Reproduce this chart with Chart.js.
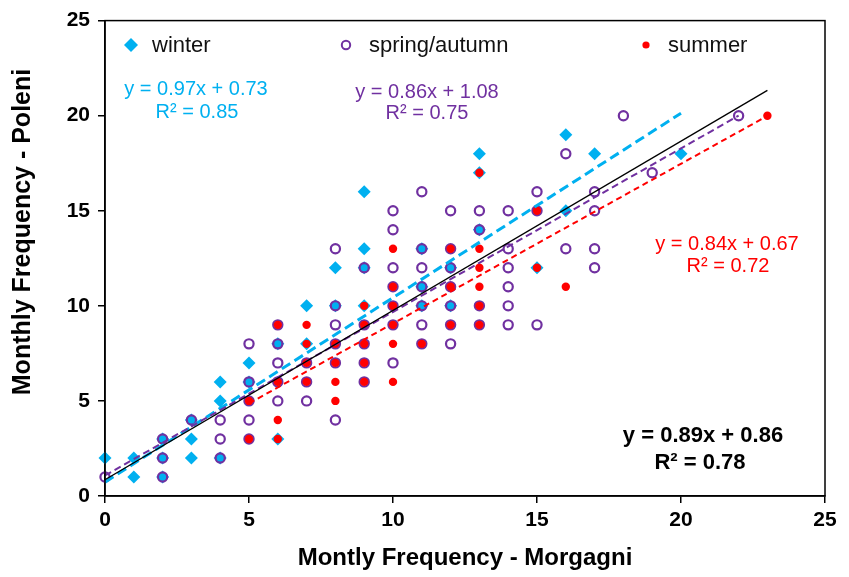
<!DOCTYPE html>
<html>
<head>
<meta charset="utf-8">
<script src="https://cdn.jsdelivr.net/npm/chart.js@4.4.0/dist/chart.umd.min.js"></script>
<style>
  html, body { margin: 0; padding: 0; background: #fff; }
  #wrap { width: 849px; height: 577px; }
</style>
</head>
<body>
<div id="wrap"><canvas id="chart" width="849" height="577"></canvas></div>
<script>
// series (monthly counts, Morgagni vs Poleni)
const winterX = [0, 1, 1, 2, 2, 2, 3, 3, 3, 4, 4, 4, 5, 5, 6, 6, 7, 7, 8, 8, 9, 9, 9, 9, 11, 11, 11, 12, 12, 13, 13, 13, 15, 16, 16, 17, 20]
const winterY = [2, 2, 1, 3, 2, 1, 4, 3, 2, 6, 5, 2, 7, 6, 8, 3, 10, 8, 12, 10, 16, 13, 12, 10, 13, 11, 10, 12, 10, 18, 17, 14, 12, 19, 15, 18, 18]

const springX = [0, 2, 2, 2, 3, 4, 4, 4, 5, 5, 5, 5, 5, 6, 6, 6, 6, 6, 7, 7, 7, 8, 8, 8, 8, 8, 8, 9, 9, 9, 9, 9,
  10, 10, 10, 10, 10, 10, 10, 11, 11, 11, 11, 11, 11, 11, 12, 12, 12, 12, 12, 12, 12, 13, 13, 13, 13,
  14, 14, 14, 14, 14, 14, 15, 15, 15, 16, 16, 17, 17, 17, 17, 18, 19, 22]
const springY = [1, 3, 2, 1, 4, 4, 3, 2, 8, 6, 5, 4, 3, 9, 8, 7, 6, 5, 7, 6, 5, 13, 10, 9, 8, 7, 4, 12, 9, 8, 7, 6,
  15, 14, 12, 11, 10, 9, 7, 16, 13, 12, 11, 10, 9, 8, 15, 13, 12, 11, 10, 9, 8, 15, 14, 10, 9,
  15, 13, 12, 11, 10, 9, 16, 15, 9, 18, 13, 16, 15, 13, 12, 20, 17, 20]

const summerX = [5, 5, 6, 6, 6, 6, 7, 7, 7, 7, 8, 8, 8, 8, 9, 9, 9, 9, 9, 10, 10, 10, 10, 10, 10, 11,
  12, 12, 12, 13, 13, 13, 13, 13, 13, 15, 15, 16, 23]
const summerY = [5, 3, 9, 6, 4, 3, 9, 8, 7, 6, 8, 7, 6, 5, 10, 9, 8, 7, 6, 13, 11, 10, 9, 8, 6, 8,
  13, 11, 9, 17, 13, 12, 11, 10, 9, 15, 12, 11, 20]

// linear fits as printed on the chart
const fitSlope = [0.97, 0.86, 0.84, 0.89]
const fitIntercept = [0.73, 1.08, 0.67, 0.86]
const fitR2 = [0.85, 0.75, 0.72, 0.78]
const fitFrom = [0, 0, 5, 0]
const fitTo = [20, 22, 23, 23]

const xTicks = [0, 5, 10, 15, 20, 25]
const yTicks = [0, 5, 10, 15, 20, 25]

const CYAN = "#00B0F0"
const PURPLE = "#7030A0"
const RED = "#FF0000"
const FONT = "'Liberation Sans', Arial, sans-serif"

const pts = (xs, ys) => xs.map((x, i) => ({ x: x, y: ys[i] }))
const fitLine = i => [fitFrom[i], fitTo[i]].map(x => ({ x: x, y: fitSlope[i] * x + fitIntercept[i] }))
const eqText = i => "y = " + fitSlope[i].toFixed(2) + "x + " + fitIntercept[i].toFixed(2)
const r2Text = i => "R\u00B2 = " + fitR2[i].toFixed(2)

// legend, equations, frame and y title are drawn on top of the chart area
const overlay = {
  id: "overlay",
  afterDraw(chart) {
    const ctx = chart.ctx
    const a = chart.chartArea
    ctx.save()

    // box round the plot
    ctx.strokeStyle = "#000"
    ctx.lineWidth = 1.5
    ctx.strokeRect(a.left, a.top, a.right - a.left, a.bottom - a.top)

    // legend row
    ctx.fillStyle = CYAN
    ctx.beginPath()
    ctx.moveTo(131, 38); ctx.lineTo(138, 45); ctx.lineTo(131, 52); ctx.lineTo(124, 45)
    ctx.closePath(); ctx.fill()
    ctx.strokeStyle = PURPLE
    ctx.lineWidth = 2
    ctx.beginPath(); ctx.arc(346, 45, 4.2, 0, Math.PI * 2); ctx.stroke()
    ctx.fillStyle = RED
    ctx.beginPath(); ctx.arc(646, 45, 3.6, 0, Math.PI * 2); ctx.fill()

    ctx.fillStyle = "#111"
    ctx.font = "22px " + FONT
    ctx.textBaseline = "middle"
    ctx.textAlign = "left"
    ctx.fillText("winter", 152, 46)
    ctx.fillText("spring/autumn", 369, 46)
    ctx.fillText("summer", 668, 46)

    // fit equations
    ctx.textAlign = "center"
    ctx.font = "20px " + FONT
    ctx.fillStyle = CYAN
    ctx.fillText(eqText(0), 196, 89)
    ctx.fillText(r2Text(0), 197, 112)
    ctx.fillStyle = PURPLE
    ctx.fillText(eqText(1), 427, 92)
    ctx.fillText(r2Text(1), 427, 113)
    ctx.fillStyle = RED
    ctx.fillText(eqText(2), 727, 244)
    ctx.fillText(r2Text(2), 728, 266)
    ctx.fillStyle = "#000"
    ctx.font = "bold 22px " + FONT
    ctx.fillText(eqText(3), 703, 436)
    ctx.fillText(r2Text(3), 700, 463)

    // y axis title
    ctx.translate(23, 232)
    ctx.rotate(-Math.PI / 2)
    ctx.font = "bold 25px " + FONT
    ctx.fillText("Monthly Frequency - Poleni", 0, 0)
    ctx.restore()
  }
}

const tickFont = { family: FONT, size: 21, weight: "bold" }

new Chart(document.getElementById("chart"), {
  type: "scatter",
  data: {
    datasets: [
      {
        label: "winter",
        data: pts(winterX, winterY),
        pointStyle: "rectRot",
        pointRadius: 6.5,
        backgroundColor: CYAN,
        borderColor: CYAN,
        borderWidth: 0,
        clip: false,
        order: 6
      },
      {
        label: "spring/autumn",
        data: pts(springX, springY),
        pointStyle: "circle",
        pointRadius: 4.6,
        backgroundColor: "rgba(0,0,0,0)",
        borderColor: PURPLE,
        borderWidth: 2.2,
        clip: false,
        order: 5
      },
      {
        label: "summer",
        data: pts(summerX, summerY),
        pointStyle: "circle",
        pointRadius: 4.2,
        backgroundColor: RED,
        borderColor: RED,
        borderWidth: 0,
        clip: false,
        order: 4
      },
      {
        label: "fit winter",
        data: fitLine(0),
        showLine: true,
        pointRadius: 0,
        borderColor: CYAN,
        borderWidth: 3,
        borderDash: [10, 5],
        order: 3
      },
      {
        label: "fit spring/autumn",
        data: fitLine(1),
        showLine: true,
        pointRadius: 0,
        borderColor: PURPLE,
        borderWidth: 2,
        borderDash: [7, 4],
        order: 2
      },
      {
        label: "fit summer",
        data: fitLine(2),
        showLine: true,
        pointRadius: 0,
        borderColor: RED,
        borderWidth: 2,
        borderDash: [6, 4],
        order: 1
      },
      {
        label: "fit all",
        data: fitLine(3),
        showLine: true,
        pointRadius: 0,
        borderColor: "#000",
        borderWidth: 1.3,
        order: 0
      }
    ]
  },
  options: {
    responsive: false,
    animation: false,
    events: [],
    layout: { padding: { top: 20, right: 24, left: 0, bottom: 0 } },
    plugins: {
      legend: { display: false },
      tooltip: { enabled: false }
    },
    scales: {
      x: {
        type: "linear",
        min: 0,
        max: 25,
        afterBuildTicks: s => { s.ticks = xTicks.map(v => ({ value: v })) },
        afterFit: s => { s.height = 81 },
        ticks: { color: "#000", font: tickFont, padding: 5 },
        grid: { drawOnChartArea: false, tickLength: 7, color: "#000", lineWidth: 1.5 },
        border: { color: "#000", width: 1.5 },
        title: {
          display: true,
          text: "Montly Frequency - Morgagni",
          color: "#000",
          font: { family: FONT, size: 24, weight: "bold" },
          padding: { top: 0, bottom: 4 }
        }
      },
      y: {
        type: "linear",
        min: 0,
        max: 25,
        afterBuildTicks: s => { s.ticks = yTicks.map(v => ({ value: v })) },
        afterFit: s => { s.width = 105 },
        ticks: { color: "#000", font: tickFont, padding: 8 },
        grid: { drawOnChartArea: false, tickLength: 7, color: "#000", lineWidth: 1.5 },
        border: { color: "#000", width: 1.5 }
      }
    }
  },
  plugins: [overlay]
})
</script>
</body>
</html>
